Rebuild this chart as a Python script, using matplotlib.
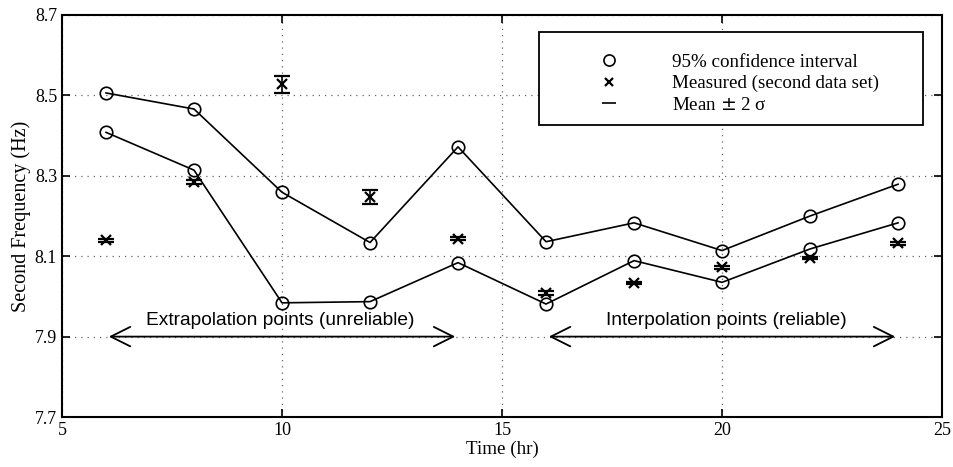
import matplotlib
matplotlib.use("Agg")
import matplotlib.pyplot as plt
from matplotlib.lines import Line2D
from matplotlib.patches import Rectangle

# ---- data ----
hours = [6, 8, 10, 12, 14, 16, 18, 20, 22, 24]
ci_upper = [8.506, 8.466, 8.259, 8.134, 8.372, 8.136, 8.183, 8.114, 8.200, 8.279]
ci_lower = [8.408, 8.314, 7.984, 7.987, 8.084, 7.981, 8.089, 8.035, 8.118, 8.183]
measured = [8.140, 8.284, 8.528, 8.248, 8.144, 8.009, 8.033, 8.072, 8.095, 8.132]
two_sigma = [0.004, 0.005, 0.021, 0.017, 0.003, 0.005, 0.003, 0.004, 0.003, 0.003]

legend_labels = ["95% confidence interval", "Measured (second data set)", r"Mean $\pm$ 2 σ"]

serif = ["Liberation Serif", "DejaVu Serif"]
sans = ["Liberation Sans", "DejaVu Sans"]

fig = plt.figure(figsize=(9.54, 4.67), dpi=100)
ax = fig.add_axes([0.065, 0.107, 0.9225, 0.861])

ax.plot(hours, ci_upper, "-o", color="black", lw=1.2, mfc="none", ms=9, mew=1.2)
ax.plot(hours, ci_lower, "-o", color="black", lw=1.2, mfc="none", ms=9, mew=1.2)
ax.errorbar(hours, measured, yerr=two_sigma, fmt="x", color="black", ms=7, mew=1.6,
            capsize=6, elinewidth=1.2, capthick=1.4)

# reliability arrows
arrow_kw = dict(arrowstyle="<->, head_length=0.5, head_width=0.25", color="black",
                lw=1.3, mutation_scale=28)
ax.annotate("", xy=(6, 7.9), xytext=(14, 7.9), arrowprops=arrow_kw)
ax.annotate("", xy=(16, 7.9), xytext=(24, 7.9), arrowprops=arrow_kw)
ax.text(9.95, 7.94, "Extrapolation points (unreliable)", ha="center", va="center",
        fontsize=13.8, family=sans)
ax.text(20.1, 7.94, "Interpolation points (reliable)", ha="center", va="center",
        fontsize=13.8, family=sans)

ax.set_xlim(5, 25)
ax.set_ylim(7.7, 8.7)
ax.set_xticks([5, 10, 15, 20, 25])
ax.set_yticks([7.7, 7.9, 8.1, 8.3, 8.5, 8.7])
ax.set_yticklabels(["7.7", "7.9", "8.1", "8.3", "8.5", "8.7"])
ax.grid(True, linestyle=(0, (1, 4)), color="black", lw=0.9, alpha=0.6)
ax.tick_params(direction="in", top=True, right=True, length=6, width=1.2, labelsize=13)
for lab in ax.get_xticklabels() + ax.get_yticklabels():
    lab.set_family(serif)
for sp in ax.spines.values():
    sp.set_linewidth(1.5)

ax.set_xlabel("Time (hr)", family=serif, fontsize=13.7, labelpad=1)
ax.set_ylabel("Second Frequency (Hz)", family=serif, fontsize=14.5, labelpad=3)

handles = [
    Line2D([], [], marker="o", ls="none", color="black", mfc="none", ms=8, mew=1.2),
    Line2D([], [], marker="x", ls="none", color="black", ms=6, mew=1.6),
    Line2D([], [], marker="_", ls="none", color="black", ms=10, mew=1.2),
]
# legend frame drawn separately (it has a wide right margin in the original)
ax.add_patch(Rectangle((0.542, 0.726), 0.436, 0.232, transform=ax.transAxes,
                       facecolor="white", edgecolor="black", lw=1.3, zorder=4))
leg = ax.legend(handles, legend_labels, loc="upper left", bbox_to_anchor=(0.542, 0.942),
                borderaxespad=0, prop={"family": serif, "size": 13.7}, frameon=False,
                handlelength=5.8, handletextpad=0.4, borderpad=0.8, labelspacing=0.22)
leg.set_zorder(5)

fig.savefig("out.png", dpi=100)
